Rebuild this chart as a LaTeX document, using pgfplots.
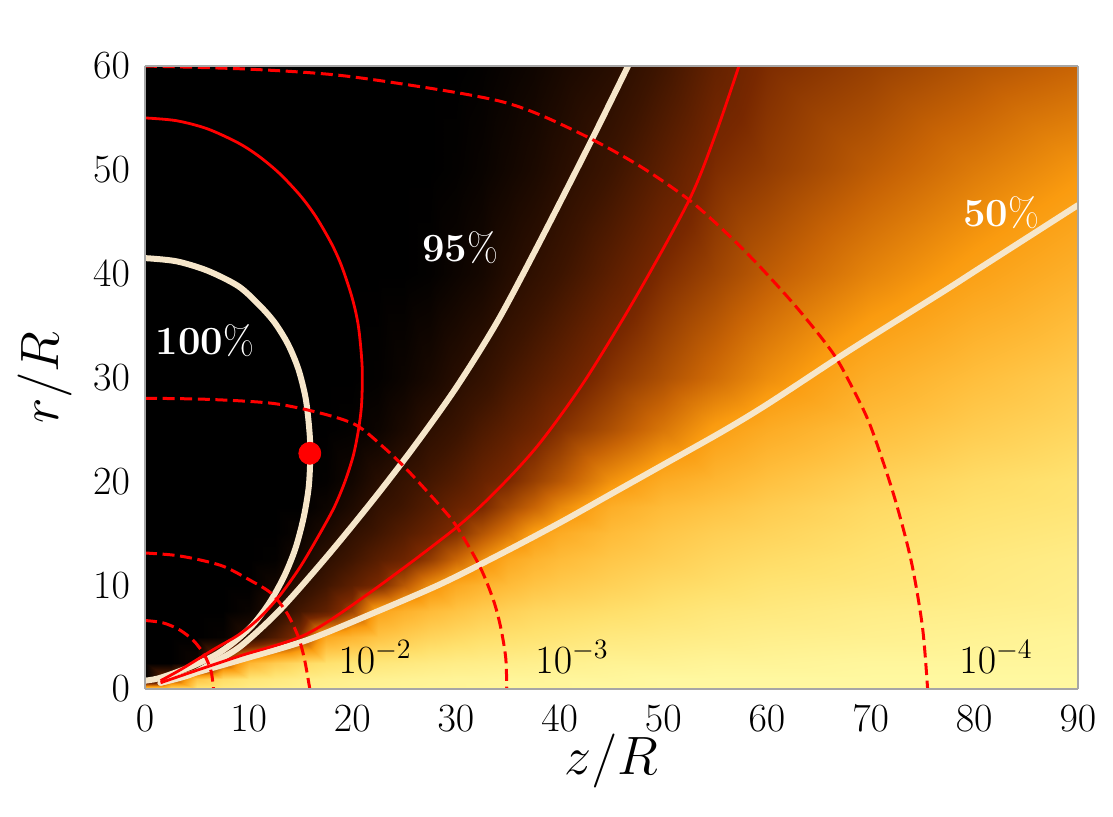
\RequirePackage{fix-cm}
\documentclass[border=0pt]{standalone}
\usepackage{pgfplots}
\pgfplotsset{compat=1.18}
\definecolor{cream}{RGB}{246,230,202}
\definecolor{cred}{RGB}{255,0,0}
\begin{document}
\begin{tikzpicture}
\useasboundingbox (-72.5pt,-63.5pt) rectangle (484pt,344.5pt);
\begin{axis}[
  at={(0,0)}, anchor=south west,
  scale only axis, width=466.5pt, height=311.5pt,
  view={0}{90},
  xmin=0, xmax=90, ymin=0, ymax=60, zmin=0, zmax=1,
  xtick={0,10,...,90}, ytick={0,10,...,60}, ztick=\empty,
  major tick length=0pt,
  tick label style={font=\fontsize{20}{23}\selectfont},
  xticklabel style={yshift=-5pt},
  yticklabel style={xshift=-4pt},
  every axis x label/.style={at={(axis description cs:0.5,-0.115)}, anchor=center, font=\fontsize{27}{30}\selectfont},
  every axis y label/.style={at={(axis description cs:-0.107,0.5)}, anchor=center, rotate=90, font=\fontsize{27}{30}\selectfont},
  xlabel={$z/R$}, ylabel={$r/R$},
  axis on top,
  axis line style={gray!70, line width=0.8pt},
  colormap={sun}{rgb255(0pt)=(0,0,0); rgb255(20pt)=(60,20,0); rgb255(35pt)=(120,40,0); rgb255(50pt)=(200,100,5); rgb255(62pt)=(250,155,15); rgb255(75pt)=(255,190,60); rgb255(88pt)=(255,225,110); rgb255(100pt)=(255,248,160)},
  point meta min=0, point meta max=1,
]
\addplot3[surf, shader=interp, mesh/cols=24, point meta=z] coordinates {
(0,0,0.85) (2.5,0,0.88) (5,0,0.9) (7.5,0,0.92) (10,0,0.94) (12.5,0,0.95) (15,0,0.96) (17.5,0,0.965) (20,0,0.97) (22.5,0,0.975) (25,0,0.98) (27.5,0,0.98) (30,0,0.98) (32.5,0,0.985) (35,0,0.99) (37.5,0,0.99) (40,0,0.99) (45,0,1) (50,0,1) (55,0,1) (60,0,1) (70,0,1) (80,0,1) (90,0,1)

(0,1,0) (2.5,1,0.4) (5,1,0.78) (7.5,1,0.86) (10,1,0.9) (12.5,1,0.92) (15,1,0.94) (17.5,1,0.95) (20,1,0.96) (22.5,1,0.965) (25,1,0.97) (27.5,1,0.975) (30,1,0.98) (32.5,1,0.98) (35,1,0.985) (37.5,1,0.985) (40,1,0.99) (45,1,0.99) (50,1,1) (55,1,1) (60,1,1) (70,1,1) (80,1,1) (90,1,1)

(0,2.5,0) (2.5,2.5,0) (5,2.5,0.05) (7.5,2.5,0.45) (10,2.5,0.72) (12.5,2.5,0.8) (15,2.5,0.85) (17.5,2.5,0.88) (20,2.5,0.9) (22.5,2.5,0.91) (25,2.5,0.92) (27.5,2.5,0.93) (30,2.5,0.94) (32.5,2.5,0.945) (35,2.5,0.95) (37.5,2.5,0.955) (40,2.5,0.96) (45,2.5,0.97) (50,2.5,0.97) (55,2.5,0.98) (60,2.5,0.98) (70,2.5,0.99) (80,2.5,0.99) (90,2.5,0.99)

(0,5,0) (2.5,5,0) (5,5,0) (7.5,5,0.02) (10,5,0.14) (12.5,5,0.25) (15,5,0.38) (17.5,5,0.67) (20,5,0.72) (22.5,5,0.77) (25,5,0.8) (27.5,5,0.83) (30,5,0.85) (32.5,5,0.87) (35,5,0.88) (37.5,5,0.89) (40,5,0.9) (45,5,0.92) (50,5,0.93) (55,5,0.94) (60,5,0.95) (70,5,0.96) (80,5,0.97) (90,5,0.98)

(0,7.5,0) (2.5,7.5,0) (5,7.5,0) (7.5,7.5,0) (10,7.5,0.03) (12.5,7.5,0.13) (15,7.5,0.22) (17.5,7.5,0.29) (20,7.5,0.42) (22.5,7.5,0.65) (25,7.5,0.7) (27.5,7.5,0.74) (30,7.5,0.77) (32.5,7.5,0.8) (35,7.5,0.82) (37.5,7.5,0.84) (40,7.5,0.85) (45,7.5,0.87) (50,7.5,0.89) (55,7.5,0.91) (60,7.5,0.92) (70,7.5,0.94) (80,7.5,0.95) (90,7.5,0.96)

(0,10,0) (2.5,10,0) (5,10,0) (7.5,10,0) (10,10,0) (12.5,10,0.06) (15,10,0.14) (17.5,10,0.21) (20,10,0.28) (22.5,10,0.35) (25,10,0.47) (27.5,10,0.59) (30,10,0.67) (32.5,10,0.71) (35,10,0.74) (37.5,10,0.77) (40,10,0.79) (45,10,0.82) (50,10,0.85) (55,10,0.87) (60,10,0.89) (70,10,0.91) (80,10,0.93) (90,10,0.95)

(0,12.5,0) (2.5,12.5,0) (5,12.5,0) (7.5,12.5,0) (10,12.5,0) (12.5,12.5,0.01) (15,12.5,0.07) (17.5,12.5,0.15) (20,12.5,0.21) (22.5,12.5,0.27) (25,12.5,0.32) (27.5,12.5,0.4) (30,12.5,0.5) (32.5,12.5,0.59) (35,12.5,0.67) (37.5,12.5,0.71) (40,12.5,0.74) (45,12.5,0.78) (50,12.5,0.81) (55,12.5,0.84) (60,12.5,0.86) (70,12.5,0.89) (80,12.5,0.92) (90,12.5,0.94)

(0,15,0) (2.5,15,0) (5,15,0) (7.5,15,0) (10,15,0) (12.5,15,0) (15,15,0.03) (17.5,15,0.09) (20,15,0.16) (22.5,15,0.21) (25,15,0.26) (27.5,15,0.31) (30,15,0.37) (32.5,15,0.46) (35,15,0.54) (37.5,15,0.63) (40,15,0.68) (45,15,0.74) (50,15,0.78) (55,15,0.81) (60,15,0.83) (70,15,0.87) (80,15,0.9) (90,15,0.92)

(0,17.5,0) (2.5,17.5,0) (5,17.5,0) (7.5,17.5,0) (10,17.5,0) (12.5,17.5,0) (15,17.5,0) (17.5,17.5,0.04) (20,17.5,0.1) (22.5,17.5,0.17) (25,17.5,0.21) (27.5,17.5,0.26) (30,17.5,0.31) (32.5,17.5,0.35) (35,17.5,0.43) (37.5,17.5,0.5) (40,17.5,0.58) (45,17.5,0.69) (50,17.5,0.74) (55,17.5,0.77) (60,17.5,0.8) (70,17.5,0.85) (80,17.5,0.88) (90,17.5,0.9)

(0,20,0) (2.5,20,0) (5,20,0) (7.5,20,0) (10,20,0) (12.5,20,0) (15,20,0) (17.5,20,0.01) (20,20,0.06) (22.5,20,0.13) (25,20,0.18) (27.5,20,0.22) (30,20,0.26) (32.5,20,0.31) (35,20,0.35) (37.5,20,0.41) (40,20,0.47) (45,20,0.6) (50,20,0.68) (55,20,0.72) (60,20,0.76) (70,20,0.82) (80,20,0.86) (90,20,0.89)

(0,25,0) (2.5,25,0) (5,25,0) (7.5,25,0) (10,25,0) (12.5,25,0) (15,25,0) (17.5,25,0) (20,25,0.01) (22.5,25,0.04) (25,25,0.09) (27.5,25,0.15) (30,25,0.19) (32.5,25,0.24) (35,25,0.28) (37.5,25,0.32) (40,25,0.37) (45,25,0.45) (50,25,0.54) (55,25,0.63) (60,25,0.68) (70,25,0.75) (80,25,0.8) (90,25,0.84)

(0,30,0) (2.5,30,0) (5,30,0) (7.5,30,0) (10,30,0) (12.5,30,0) (15,30,0) (17.5,30,0) (20,30,0) (22.5,30,0.01) (25,30,0.04) (27.5,30,0.08) (30,30,0.13) (32.5,30,0.17) (35,30,0.22) (37.5,30,0.26) (40,30,0.3) (45,30,0.38) (50,30,0.45) (55,30,0.52) (60,30,0.59) (70,30,0.69) (80,30,0.75) (90,30,0.8)

(0,40,0) (2.5,40,0) (5,40,0) (7.5,40,0) (10,40,0) (12.5,40,0) (15,40,0) (17.5,40,0) (20,40,0) (22.5,40,0) (25,40,0) (27.5,40,0.01) (30,40,0.04) (32.5,40,0.07) (35,40,0.12) (37.5,40,0.16) (40,40,0.2) (45,40,0.28) (50,40,0.36) (55,40,0.42) (60,40,0.48) (70,40,0.57) (80,40,0.64) (90,40,0.7)

(0,50,0) (2.5,50,0) (5,50,0) (7.5,50,0) (10,50,0) (12.5,50,0) (15,50,0) (17.5,50,0) (20,50,0) (22.5,50,0) (25,50,0) (27.5,50,0) (30,50,0.01) (32.5,50,0.03) (35,50,0.06) (37.5,50,0.09) (40,50,0.13) (45,50,0.2) (50,50,0.28) (55,50,0.36) (60,50,0.4) (70,50,0.48) (80,50,0.55) (90,50,0.61)

(0,60,0) (2.5,60,0) (5,60,0) (7.5,60,0) (10,60,0) (12.5,60,0) (15,60,0) (17.5,60,0) (20,60,0) (22.5,60,0) (25,60,0) (27.5,60,0) (30,60,0) (32.5,60,0.01) (35,60,0.03) (37.5,60,0.05) (40,60,0.08) (45,60,0.13) (50,60,0.21) (55,60,0.3) (60,60,0.36) (70,60,0.41) (80,60,0.46) (90,60,0.5)
};
% cream contours
\addplot3[cream, line width=3pt, smooth, tension=0.5, line cap=round] coordinates {
(0,41.5,0) (3,41.2,0) (6,40.3,0) (9,38.8,0) (11,37.0,0) (12.5,35.3,0) (13.8,33.2,0) (14.8,30.8,0) (15.5,28,0) (15.85,25,0) (15.95,22.7,0) (15.8,19.5,0) (15.3,16.5,0) (14.5,13.5,0) (13.4,10.8,0) (12,8.3,0) (10.5,6.3,0) (8.8,4.7,0) (7,3.4,0) (5,2.4,0) (3,1.6,0) (1.2,1.0,0) (0,0.8,0)};
\addplot3[cream, line width=3pt, smooth, tension=0.5, line cap=round] coordinates {
(1.5,0.6,0) (4.3,1.35,0) (6.5,2.5,0) (9.2,4.1,0) (13,7.6,0) (17.5,12.7,0) (22,18.2,0) (26,23.4,0) (30,29.0,0) (34,35.4,0) (38,42.9,0) (43,52.7,0) (46.6,60,0)};
\addplot3[cream, line width=3pt, smooth, tension=0.5, line cap=round] coordinates {
(1.5,0.6,0) (5,1.6,0) (9.2,2.8,0) (15.6,4.7,0) (22,7.3,0) (28.5,10.1,0) (34.5,13.1,0) (40,16.0,0) (45,18.8,0) (50,21.6,0) (55.7,24.8,0) (60,27.4,0) (66.4,31.6,0) (70,33.9,0) (77.2,38.4,0) (80,40.2,0) (85,43.4,0) (90,46.6,0)};
% red solid
\addplot3[cred, line width=1.4pt, smooth, tension=0.5] coordinates {
(0,55,0) (3,54.74,0) (6,53.96,0) (9,52.59,0) (11,51.3,0) (13,49.63,0) (15,47.5,0) (16.5,45.47,0) (18,42.88,0) (19,40.65,0) (20,37.62,0) (20.6,34.86,0) (20.95,31,0) (20.9,27.5,0) (20.6,25,0) (20.1,22.5,0) (19.3,20,0) (18.3,17.6,0) (17,15.2,0) (15,11.8,0) (13,9,0) (11,6.8,0) (9,5.2,0) (6.6,3.8,0) (3.5,1.9,0) (1.5,0.8,0)};
\addplot3[cred, line width=1.4pt, smooth, tension=0.5] coordinates {
(1.5,0.6,0) (5,1.8,0) (9.2,3.2,0) (15.6,5.3,0) (22,9.5,0) (30.1,15.6,0) (34.3,19.5,0) (38.1,23.7,0) (42.5,29.8,0) (47.5,38,0) (52.5,47.1,0) (55,53.3,0) (57.3,60,0)};
% red dashed
\addplot3[cred, line width=1.5pt, dash pattern=on 6pt off 2.8pt, smooth] coordinates {
(0,6.6,0) (1.71,6.38,0) (3.3,5.72,0) (4.67,4.67,0) (5.72,3.3,0) (6.38,1.71,0) (6.6,0,0)};
\addplot3[cred, line width=1.5pt, dash pattern=on 6pt off 2.8pt, smooth] coordinates {
(0,13.1,0) (2.7,12.9,0) (5,12.5,0) (7.6,11.8,0) (10.1,10.5,0) (12.2,9.2,0) (13.7,7.3,0) (14.8,5.0,0) (15.4,2.8,0) (15.9,0,0)};
\addplot3[cred, line width=1.5pt, dash pattern=on 6pt off 2.8pt, smooth] coordinates {
(0,28,0) (6,27.9,0) (12.4,27.5,0) (17.2,26.5,0) (20.4,25.4,0) (23,23.3,0) (25.3,21.1,0) (28.5,17.6,0) (30.1,15.6,0) (32.3,11.8,0) (33.6,8.6,0) (34.3,6.0,0) (34.8,3,0) (34.9,0,0)};
\addplot3[cred, line width=1.5pt, dash pattern=on 6pt off 2.8pt, smooth] coordinates {
(0,60,0) (10,59.7,0) (18.8,59.1,0) (28.5,57.7,0) (34.3,56.6,0) (38.1,55.3,0) (43.2,52.9,0) (48,50.2,0) (52.5,47.1,0) (56,44,0) (59.3,40.7,0) (63,36.6,0) (66.4,32.3,0) (68.3,28.9,0) (70,25.3,0) (72.2,18.8,0) (73.9,12.4,0) (75,6,0) (75.5,0,0)};
% red dot
\addplot3[only marks, mark=*, mark size=5.5pt, cred] coordinates {(15.9,22.7,0)};
% labels
\node[text=white, font=\fontsize{20}{24}\selectfont] at (axis cs:5.8,33.6,0) {\textbf{100}\%};
\node[text=white, font=\fontsize{20}{24}\selectfont] at (axis cs:30.4,42.5,0) {\textbf{95}\%};
\node[text=white, font=\fontsize{20}{24}\selectfont] at (axis cs:82.6,45.9,0) {\textbf{50}\%};
\node[font=\fontsize{20}{24}\selectfont] at (axis cs:22.2,3.1,0) {$10^{-2}$};
\node[font=\fontsize{20}{24}\selectfont] at (axis cs:41.2,3.1,0) {$10^{-3}$};
\node[font=\fontsize{20}{24}\selectfont] at (axis cs:82.1,3.1,0) {$10^{-4}$};
\end{axis}
\end{tikzpicture}
\end{document}
